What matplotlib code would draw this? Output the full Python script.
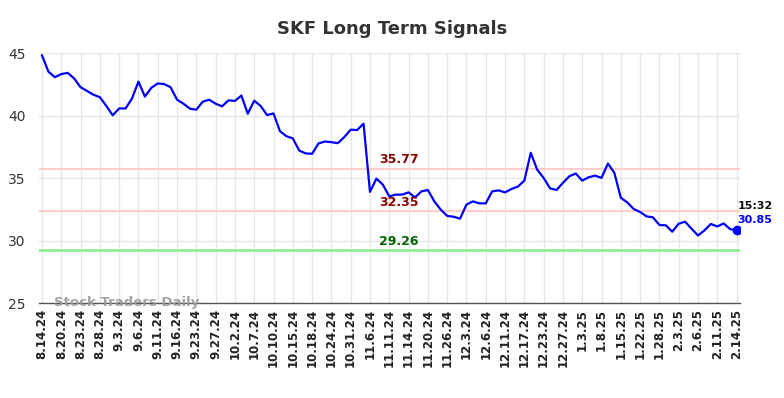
import matplotlib
matplotlib.use("Agg")
import matplotlib.pyplot as plt
import numpy as np

tick_labels = ["8.14.24", "8.20.24", "8.23.24", "8.28.24", "9.3.24", "9.6.24", "9.11.24",
               "9.16.24", "9.23.24", "9.27.24", "10.2.24", "10.7.24", "10.10.24", "10.15.24",
               "10.18.24", "10.24.24", "10.31.24", "11.6.24", "11.11.24", "11.14.24",
               "11.20.24", "11.26.24", "12.3.24", "12.6.24", "12.11.24", "12.17.24",
               "12.23.24", "12.27.24", "1.3.25", "1.8.25", "1.15.25", "1.22.25", "1.28.25",
               "2.3.25", "2.6.25", "2.11.25", "2.14.25"]

prices = [44.85, 43.55, 43.1, 43.35, 43.45, 43.0, 42.3, 42.0, 41.7, 41.5,
          40.8, 40.05, 40.6, 40.6, 41.4, 42.75, 41.55, 42.25, 42.6, 42.55,
          42.3, 41.3, 40.98, 40.58, 40.5, 41.14, 41.3, 40.98, 40.77, 41.25,
          41.2, 41.63, 40.18, 41.22, 40.8, 40.07, 40.2, 38.78, 38.38, 38.2,
          37.23, 37.0, 36.97, 37.8, 37.95, 37.9, 37.82, 38.3, 38.9, 38.87,
          39.38, 33.92, 34.98, 34.5, 33.56, 33.7, 33.7, 33.88, 33.48, 33.96,
          34.07, 33.16, 32.5, 32.0, 31.93, 31.77, 32.9, 33.16, 33.0, 33.0,
          33.96, 34.04, 33.88, 34.15, 34.34, 34.82, 37.05, 35.7, 35.04, 34.2,
          34.07, 34.64, 35.17, 35.39, 34.82, 35.09, 35.22, 35.04, 36.19, 35.44,
          33.45, 33.08, 32.55, 32.31, 31.96, 31.88, 31.27, 31.24, 30.73, 31.37,
          31.53, 30.97, 30.43, 30.83, 31.35, 31.15, 31.39, 30.94, 30.85]

upper_level = 35.77
mid_level = 32.35
lower_level = 29.26
last_time = "15:32"
last_price = 30.85

fig = plt.figure(figsize=(7.84, 3.98), dpi=100)
ax = fig.add_axes([0.0501, 0.238, 0.8939, 0.6276])

x = np.arange(len(prices))
tick_pos = np.arange(0, len(prices), 3)

ax.set_xlim(-0.42, 108.55)
ax.set_ylim(25, 45)

ax.set_xticks(tick_pos)
ax.set_xticklabels(tick_labels, rotation=90, fontsize=8.5, fontweight="bold", color="#222222")
ax.set_yticks([25, 30, 35, 40, 45])
ax.set_yticklabels(["25", "30", "35", "40", "45"], fontsize=10, color="#333333")
ax.tick_params(axis="both", length=0, pad=4)
ax.tick_params(axis="y", pad=10)

ax.grid(True, color="#e6e6e6", linewidth=1)
ax.set_axisbelow(True)
for s in ["top", "right", "left"]:
    ax.spines[s].set_visible(False)
ax.spines["bottom"].set_color("#555555")
ax.spines["bottom"].set_linewidth(1)

ax.axhline(upper_level, color="#ffcccc", linewidth=1.5, zorder=1)
ax.axhline(mid_level, color="#ffcccc", linewidth=1.5, zorder=1)
ax.axhline(lower_level, color="#90ee90", linewidth=2, zorder=1)

ax.plot(x, prices, color="#0000ff", linewidth=1.6, zorder=3)
ax.plot(x[-1], prices[-1], "o", color="#0000ff", markersize=6, zorder=4)

mid_x = 55.5
for lvl, col in [(upper_level, "#8b0000"), (mid_level, "#8b0000"), (lower_level, "#006400")]:
    ax.text(mid_x, lvl + 0.2, f"{lvl:.2f}", color=col, fontsize=9,
            fontweight="bold", ha="center", va="bottom", zorder=5)

ax.text(x[-1] + 0.1, prices[-1] + 1.9, last_time, color="#111111", fontsize=8,
        fontweight="bold", ha="left", va="center")
ax.text(x[-1] + 0.1, prices[-1] + 0.8, f"{last_price:.2f}", color="#0000ff", fontsize=8,
        fontweight="bold", ha="left", va="center")

ax.text(1.8, 25.05, "Stock Traders Daily", color="#999999", fontsize=9.5,
        fontweight="bold", ha="left", va="center", alpha=0.9, zorder=5)

fig.suptitle("SKF Long Term Signals", fontsize=13, fontweight="bold", color="#333333",
             y=0.95)

fig.savefig("out.png", dpi=100)
